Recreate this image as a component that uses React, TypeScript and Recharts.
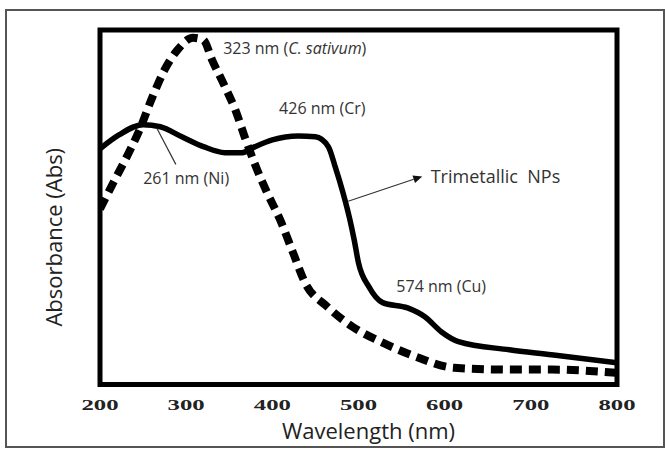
import React from 'react';
import { LineChart, Line, XAxis, YAxis, ReferenceArea, ReferenceDot, ReferenceLine } from 'recharts';

// Trimetallic NPs (solid)
const solidWavelengths = [200, 222, 250, 270, 295, 320, 345, 365, 380, 400, 430, 450, 465, 473, 482, 490, 495, 500, 512, 528, 557, 577, 596, 616, 675, 724, 800];
const solidAbs = [0.665, 0.704, 0.733, 0.727, 0.699, 0.671, 0.654, 0.654, 0.671, 0.69, 0.701, 0.699, 0.671, 0.614, 0.541, 0.465, 0.408, 0.343, 0.276, 0.231, 0.216, 0.191, 0.149, 0.121, 0.098, 0.084, 0.061];

// C. sativum extract (dashed)
const dashedWavelengths = [200, 216, 231, 246, 261, 275, 290, 308, 320, 330, 345, 357, 369, 379, 394, 409, 424, 438, 464, 493, 528, 567, 611, 675, 724, 800];
const dashedAbs = [0.495, 0.572, 0.642, 0.719, 0.812, 0.888, 0.944, 0.978, 0.972, 0.916, 0.84, 0.775, 0.691, 0.626, 0.541, 0.465, 0.372, 0.287, 0.219, 0.163, 0.118, 0.078, 0.047, 0.042, 0.042, 0.033];

const xTicks = [200, 300, 400, 500, 600, 700, 800];

const annotations = [
  { key: 'cs', parts: ['323 nm (', 'C. sativum', ')'], italicIndex: 1, w: 426, a: 0.95, size: 16 },
  { key: 'cr', parts: ['426 nm (Cr)'], italicIndex: -1, w: 458, a: 0.78, size: 16 },
  { key: 'ni', parts: ['261 nm (Ni)'], italicIndex: -1, w: 300, a: 0.582, size: 16 },
  { key: 'tm', parts: ['Trimetallic  NPs'], italicIndex: -1, w: 659, a: 0.588, size: 18 },
  { key: 'cu', parts: ['574 nm (Cu)'], italicIndex: -1, w: 596, a: 0.277, size: 16 },
];

const pointers = [
  { key: 'niLine', from: { x: 266, y: 0.723 }, to: { x: 288, y: 0.621 }, arrow: false },
  { key: 'tmArrow', from: { x: 488, y: 0.517 }, to: { x: 574, y: 0.587 }, arrow: true },
];

const solidData = solidWavelengths.map((w, i) => ({ w, a: solidAbs[i] }));
const dashedData = dashedWavelengths.map((w, i) => ({ w, a: dashedAbs[i] }));

const SANS = "'Open Sans', 'Noto Sans', sans-serif";

const BoldTick = (props: any) => {
  const { x, y, payload } = props;
  return (
    <text
      x={0}
      y={0}
      transform={`translate(${x},${y}) scale(1.65,1)`}
      textAnchor="middle"
      dominantBaseline="central"
      fontFamily="'Liberation Serif', 'Times New Roman', serif"
      fontWeight="bold"
      fontSize={15}
      fill="#222"
    >
      {payload.value}
    </text>
  );
};

const XTitle = (props: any) => {
  const vb = props.viewBox;
  return (
    <text x={vb.x + vb.width / 2 + 10} y={vb.y + 45.5} textAnchor="middle" dominantBaseline="central" fontFamily={SANS} fontSize={22} fill="#222">
      Wavelength (nm)
    </text>
  );
};

const YTitle = (props: any) => {
  const vb = props.viewBox;
  const cx = vb.x + 53;
  const cy = vb.y + vb.height / 2 + 30;
  return (
    <text x={cx} y={cy} transform={`rotate(-90, ${cx}, ${cy})`} textAnchor="middle" dominantBaseline="central" fontFamily={SANS} fontSize={22} fill="#222">
      Absorbance (Abs)
    </text>
  );
};

const makeAnnotationShape = (parts: string[], italicIndex: number, size: number) => (p: any) => (
  <text x={p.cx} y={p.cy} textAnchor="middle" dominantBaseline="central" fontFamily={SANS} fontSize={size} fill="#333">
    {parts.map((t, i) => (
      <tspan key={i} fontStyle={i === italicIndex ? 'italic' : 'normal'} style={{ whiteSpace: 'pre' }}>
        {t}
      </tspan>
    ))}
  </text>
);

const makePointerShape = (arrow: boolean) => (p: any) => {
  const { x1, y1, x2, y2 } = p;
  if (x1 == null) return null;
  const ang = Math.atan2(y2 - y1, x2 - x1);
  const L = 9;
  const Wd = 4;
  const bx = x2 - L * Math.cos(ang);
  const by = y2 - L * Math.sin(ang);
  const px = -Math.sin(ang) * Wd;
  const py = Math.cos(ang) * Wd;
  return (
    <g>
      <line x1={x1} y1={y1} x2={arrow ? bx : x2} y2={arrow ? by : y2} stroke="#333" strokeWidth={1.2} />
      {arrow && <polygon points={`${x2},${y2} ${bx + px},${by + py} ${bx - px},${by - py}`} fill="#111" />}
    </g>
  );
};

export default function App() {
  return (
    <div style={{ position: 'absolute', left: 0, top: 0, width: 665, height: 450, background: '#fff' }}>
      <div style={{ position: 'absolute', left: 5, top: 9, width: 656, height: 435, border: '2px solid #555' }} />
      <LineChart width={665} height={450} margin={{ top: 30, right: 48, bottom: 35.5, left: 0 }}>
        <XAxis
          dataKey="w"
          type="number"
          domain={[200, 800]}
          ticks={xTicks}
          allowDataOverflow
          axisLine={false}
          tickLine={false}
          tickSize={0}
          tickMargin={20.5}
          height={30}
          tick={<BoldTick />}
          interval={0}
          label={<XTitle />}
        />
        <YAxis type="number" domain={[0, 1]} allowDataOverflow tick={false} axisLine={false} tickLine={false} width={100} label={<YTitle />} />
        <ReferenceArea x1={200} x2={800} y1={0} y2={1} fill="none" fillOpacity={0} stroke="#000" strokeWidth={5} ifOverflow="visible" />
        <Line data={dashedData} dataKey="a" type="monotone" stroke="#000" strokeWidth={8} strokeDasharray="12 7" dot={false} activeDot={false} isAnimationActive={false} />
        <Line data={solidData} dataKey="a" type="monotone" stroke="#000" strokeWidth={5.5} dot={false} activeDot={false} isAnimationActive={false} />
        {pointers.map((pt) => (
          <ReferenceLine key={pt.key} segment={[pt.from, pt.to]} ifOverflow="visible" shape={makePointerShape(pt.arrow)} />
        ))}
        {annotations.map((an) => (
          <ReferenceDot key={an.key} x={an.w} y={an.a} r={0} ifOverflow="visible" shape={makeAnnotationShape(an.parts, an.italicIndex, an.size)} />
        ))}
      </LineChart>
    </div>
  );
}
